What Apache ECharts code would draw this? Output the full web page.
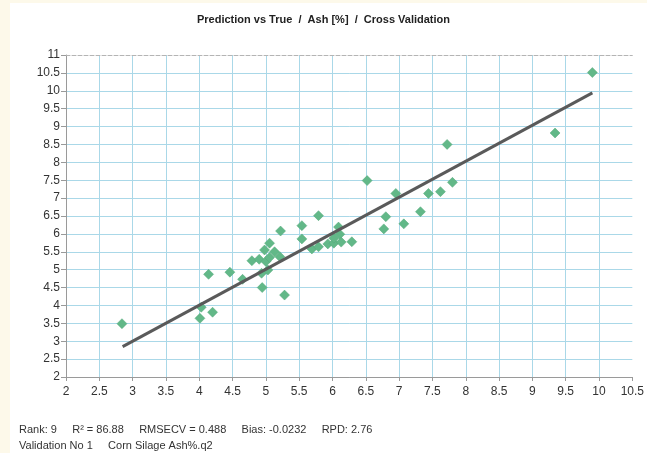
<!DOCTYPE html>
<html>
<head>
<meta charset="utf-8">
<script src="https://cdn.jsdelivr.net/npm/echarts@6/dist/echarts.min.js"></script>
<style>
  html, body { margin: 0; padding: 0; background: #fdf9ea; }
  #chart { width: 647px; height: 453px; }
</style>
</head>
<body>
<div id="chart"></div>
<script>
// Reference (true) ash values, %
const trueAsh = [
  2.84, 4.01, 4.03, 4.20, 4.14, 4.46, 4.65, 4.79, 4.90, 4.935, 4.945,
  4.98, 5.00, 5.03, 5.055, 5.055, 5.13, 5.21, 5.22, 5.28, 5.54, 5.54,
  5.69, 5.79, 5.79, 5.93, 6.02, 6.02, 6.09, 6.11, 6.13, 6.29, 6.52,
  6.77, 6.80, 6.95, 7.07, 7.32, 7.44, 7.62, 7.72, 7.80, 9.34, 9.90
];
// Cross-validated predictions, %
const predictedAsh = [
  3.49, 3.64, 3.95, 3.81, 4.87, 4.93, 4.73, 5.25, 5.29, 4.90, 4.50,
  5.55, 5.23, 4.99, 5.74, 5.34, 5.50, 5.36, 6.08, 4.29, 6.23, 5.86,
  5.58, 5.64, 6.51, 5.72, 5.74, 5.88, 6.19, 5.99, 5.77, 5.78, 7.49,
  6.14, 6.48, 7.13, 6.28, 6.62, 7.13, 7.18, 8.50, 7.44, 8.82, 10.51
];
// Fitted regression line end points [true, predicted]
const fitStart = [2.85, 2.85];
const fitEnd = [9.90, 9.94];

// Axis ranges and steps
const xRange = [2, 10.5];
const yRange = [2, 11];
const axisStep = 0.5;

const titleText = 'Prediction vs True  /  Ash [%]  /  Cross Validation';
const statsLine = 'Rank: 9     R\u00b2 = 86.88     RMSECV = 0.488     Bias: -0.0232     RPD: 2.76';
const infoLine = 'Validation No 1     Corn Silage Ash%.q2';

const points = trueAsh.map((t, i) => [t, predictedAsh[i]]);

const chart = echarts.init(document.getElementById('chart'));
const font = 'Liberation Sans, Arial, sans-serif';

chart.setOption({
  animation: false,
  backgroundColor: '#fdf9ea',
  title: {
    text: titleText,
    left: 'center',
    top: 9,
    textStyle: { fontFamily: font, fontSize: 11, fontWeight: 'bold', color: '#222' }
  },
  graphic: [
    {
      type: 'rect', z: -10, silent: true,
      shape: { x: 10, y: 3, width: 637, height: 450 },
      style: { fill: '#ffffff' }
    },
    {
      type: 'text', left: 19, top: 424,
      style: { text: statsLine, fontFamily: font, fontSize: 11, fill: '#333' }
    },
    {
      type: 'text', left: 19, top: 440,
      style: { text: infoLine, fontFamily: font, fontSize: 11, fill: '#333' }
    }
  ],
  grid: { left: 66, right: 11, top: 55, bottom: 76 },
  xAxis: [
    {
      type: 'value', min: xRange[0], max: xRange[1], interval: axisStep,
      axisLine: { show: true, lineStyle: { color: '#9a9a9a', width: 1 } },
      axisTick: { show: true, length: 4, lineStyle: { color: '#9a9a9a' } },
      axisLabel: { color: '#333', fontFamily: font, fontSize: 12, margin: 9 },
      splitLine: { show: true, showMaxLine: false, lineStyle: { color: '#aad8e8', width: 1 } }
    },
    {
      type: 'value', position: 'top', min: xRange[0], max: xRange[1], interval: axisStep,
      axisLine: { show: true, lineStyle: { color: '#b4b4b4', width: 1, type: 'dashed' } },
      axisTick: { show: false }, axisLabel: { show: false }, splitLine: { show: false }
    }
  ],
  yAxis: {
    type: 'value', min: yRange[0], max: yRange[1], interval: axisStep,
    axisLine: { show: true, lineStyle: { color: '#9a9a9a', width: 1 } },
    axisTick: { show: true, length: 5, lineStyle: { color: '#9a9a9a' } },
    axisLabel: { color: '#333', fontFamily: font, fontSize: 12, margin: 6 },
    splitLine: { show: true, showMaxLine: false, lineStyle: { color: '#aad8e8', width: 1 } }
  },
  series: [
    {
      type: 'scatter',
      data: points,
      symbol: 'diamond',
      symbolSize: 10,
      itemStyle: { color: '#62b888', borderColor: '#55a97a', borderWidth: 0.5, opacity: 1 },
      z: 3
    },
    {
      type: 'line',
      data: [fitStart, fitEnd],
      showSymbol: false,
      symbol: 'none',
      lineStyle: { color: '#5a5a5a', width: 3 },
      z: 4
    }
  ]
});
</script>
</body>
</html>
